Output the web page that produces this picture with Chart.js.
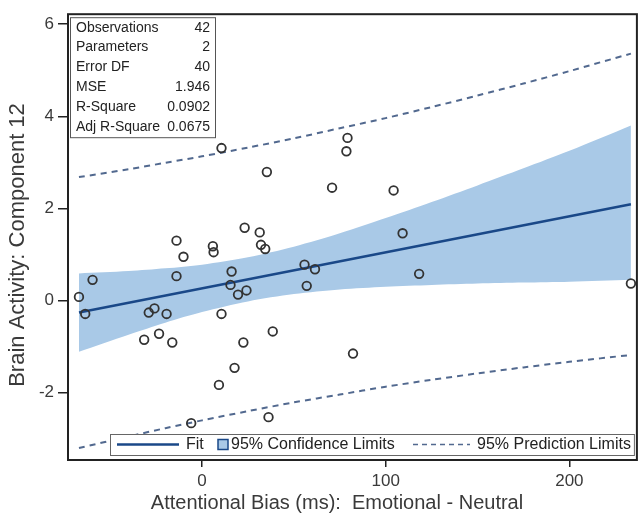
<!DOCTYPE html>
<html>
<head>
<meta charset="utf-8">
<script src="https://cdn.jsdelivr.net/npm/chart.js@4/dist/chart.umd.min.js"></script>
<style>
html,body{margin:0;padding:0;background:#fff;}
canvas{display:block;}
</style>
</head>
<body>
<canvas id="c" width="643" height="518"></canvas>
<script>
// ---- data ----
const obsX = [10.6, 35.3, 79.2, 78.6, 70.8, 23.2, 31.4, 32.1, 34.4, -13.9, -10.1, 5.9, 6.3, -13.9, -59.6, 16.1, 15.5, 19.6, 24.2, 55.8, 61.5, 57.0, -67.0, -63.6, -29.0, -25.9, -19.3, -31.5, -23.4, -16.2, 10.6, 38.5, 22.5, 17.7, 9.2, 36.2, -5.9, 82.2, 104.3, 109.2, 118.2, 233.5];
const obsY = [3.31, 2.79, 3.53, 3.24, 2.45, 1.58, 1.48, 1.21, 1.12, 1.30, 0.95, 1.18, 1.05, 0.53, 0.45, 0.63, 0.34, 0.13, 0.22, 0.78, 0.68, 0.32, 0.08, -0.29, -0.26, -0.17, -0.29, -0.85, -0.72, -0.91, -0.29, -0.67, -0.91, -1.46, -1.83, -2.53, -2.66, -1.15, 2.39, 1.46, 0.58, 0.37];

const fitX = [-67, 233.5];
const fitY = [-0.26, 2.09];

const bandX   = [-67, -40, -20, 0, 25, 50, 75, 100, 125, 150, 175, 200, 233.5];
const clUpper = [0.59, 0.64, 0.70, 0.78, 0.94, 1.17, 1.46, 1.79, 2.14, 2.50, 2.87, 3.25, 3.80];
const clLower = [-1.11, -0.74, -0.48, -0.25, -0.02, 0.14, 0.24, 0.30, 0.34, 0.37, 0.39, 0.41, 0.45];
const plUpper = [2.68, 2.85, 2.99, 3.13, 3.32, 3.52, 3.74, 3.96, 4.20, 4.45, 4.71, 4.98, 5.36];
const plLower = [-3.20, -2.95, -2.77, -2.60, -2.40, -2.21, -2.04, -1.87, -1.72, -1.58, -1.45, -1.33, -1.18];

const xTicks = [0, 100, 200];
const yTicks = [-2, 0, 2, 4, 6];

const statLabels = ['Observations', 'Parameters', 'Error DF', 'MSE', 'R-Square', 'Adj R-Square'];
const statValues = ['42', '2', '40', '1.946', '0.0902', '0.0675'];

const legendLabels = ['Fit', '95% Confidence Limits', '95% Prediction Limits'];
const xTitle = 'Attentional Bias (ms):  Emotional - Neutral';
const yTitle = 'Brain Activity: Component 12';

// ---- styling ----
const FIT = '#1a4888';
const BAND = '#a9c9e7';
const PRED = '#52698f';
const TXT = '#3a3a3a';
const SANS = '"Liberation Sans", Arial, sans-serif';
const NARROW = '"Liberation Sans Narrow", "Liberation Sans", Arial, sans-serif';

const pts = (xs, ys) => xs.map((x, i) => ({x: x, y: ys[i]}));

const overlay = {
  id: 'overlay',
  beforeDraw(chart) {
    const ctx = chart.ctx;
    ctx.save();
    ctx.fillStyle = '#fff';
    ctx.fillRect(0, 0, chart.width, chart.height);
    ctx.restore();
  },
  afterDatasetsDraw(chart) {
    const ctx = chart.ctx, a = chart.chartArea;
    ctx.save();
    // stats box
    const bx = a.left + 2, by = a.top + 3, bw = 145, bh = 120, rowH = 19.8;
    ctx.fillStyle = '#fff';
    ctx.fillRect(bx, by, bw, bh);
    ctx.strokeStyle = '#555';
    ctx.lineWidth = 1;
    ctx.strokeRect(bx + 0.5, by + 0.5, bw, bh);
    ctx.font = '14px ' + SANS;
    ctx.fillStyle = '#222';
    ctx.textBaseline = 'middle';
    statLabels.forEach((l, i) => {
      const y = by + 10.5 + i * rowH;
      ctx.textAlign = 'left';
      ctx.fillText(l, bx + 6, y);
      ctx.textAlign = 'right';
      ctx.fillText(statValues[i], bx + bw - 5, y);
    });

    // legend box
    const lx = a.left + 42, ly = a.bottom - 26, lw = a.right - 3 - lx, lh = 21;
    const cy = ly + lh / 2;
    ctx.fillStyle = '#fff';
    ctx.fillRect(lx, ly, lw, lh);
    ctx.strokeStyle = '#666';
    ctx.lineWidth = 1;
    ctx.strokeRect(lx + 0.5, ly + 0.5, lw, lh);
    ctx.font = '16px ' + SANS;
    ctx.fillStyle = '#222';
    ctx.textAlign = 'left';
    // fit sample
    ctx.strokeStyle = FIT;
    ctx.lineWidth = 2.5;
    ctx.beginPath(); ctx.moveTo(lx + 7, cy); ctx.lineTo(lx + 69, cy); ctx.stroke();
    ctx.fillText(legendLabels[0], lx + 76, cy);
    // band sample
    ctx.fillStyle = BAND;
    ctx.fillRect(lx + 108, cy - 5, 10, 10);
    ctx.strokeStyle = FIT;
    ctx.lineWidth = 1.5;
    ctx.strokeRect(lx + 108, cy - 5, 10, 10);
    ctx.fillStyle = '#222';
    ctx.fillText(legendLabels[1], lx + 121, cy);
    // prediction sample
    ctx.strokeStyle = PRED;
    ctx.lineWidth = 1.5;
    ctx.setLineDash([5, 4]);
    ctx.beginPath(); ctx.moveTo(lx + 303, cy); ctx.lineTo(lx + 360, cy); ctx.stroke();
    ctx.setLineDash([]);
    ctx.textAlign = 'right';
    ctx.fillText(legendLabels[2], lx + lw - 3, cy);

    // frame
    ctx.strokeStyle = '#222';
    ctx.lineWidth = 2;
    ctx.strokeRect(a.left, a.top, a.right - a.left, a.bottom - a.top);
    ctx.restore();
  },
  afterDraw(chart) {
    const ctx = chart.ctx;
    ctx.save();
    ctx.fillStyle = TXT;
    ctx.textAlign = 'center';
    ctx.textBaseline = 'middle';
    // x axis title
    ctx.font = '20px ' + SANS;
    ctx.fillText(xTitle, 337, 503);
    // y axis title
    ctx.translate(18, 245);
    ctx.rotate(-Math.PI / 2);
    ctx.font = '22px ' + SANS;
    ctx.fillText(yTitle, 0, 0);
    ctx.restore();
  }
};

new Chart(document.getElementById('c'), {
  type: 'scatter',
  data: {
    datasets: [
      {
        label: 'Observations',
        data: pts(obsX, obsY),
        showLine: false,
        pointRadius: 4.3,
        pointHoverRadius: 4.3,
        pointBorderWidth: 1.8,
        pointBorderColor: '#333',
        pointBackgroundColor: 'rgba(0,0,0,0)',
        order: 0
      },
      {
        label: 'Fit',
        data: pts(fitX, fitY),
        showLine: true,
        borderColor: FIT,
        borderWidth: 2.5,
        pointRadius: 0,
        fill: false,
        order: 1
      },
      {
        label: 'PL upper',
        data: pts(bandX, plUpper),
        showLine: true,
        borderColor: PRED,
        borderWidth: 2,
        borderDash: [6, 5],
        pointRadius: 0,
        tension: 0.3,
        fill: false,
        order: 2
      },
      {
        label: 'PL lower',
        data: pts(bandX, plLower),
        showLine: true,
        borderColor: PRED,
        borderWidth: 2,
        borderDash: [6, 5],
        pointRadius: 0,
        tension: 0.3,
        fill: false,
        order: 3
      },
      {
        label: 'CL upper',
        data: pts(bandX, clUpper),
        showLine: true,
        borderWidth: 0,
        borderColor: BAND,
        backgroundColor: BAND,
        pointRadius: 0,
        tension: 0.3,
        fill: '+1',
        order: 4
      },
      {
        label: 'CL lower',
        data: pts(bandX, clLower),
        showLine: true,
        borderWidth: 0,
        borderColor: BAND,
        pointRadius: 0,
        tension: 0.3,
        fill: false,
        order: 5
      }
    ]
  },
  options: {
    responsive: false,
    animation: false,
    devicePixelRatio: 1,
    layout: {padding: {top: 10, right: 2, left: 0, bottom: 0}},
    plugins: {legend: {display: false}, tooltip: {enabled: false}},
    scales: {
      x: {
        type: 'linear',
        min: -72.97,
        max: 236.76,
        afterBuildTicks: s => { s.ticks = xTicks.map(v => ({value: v})); },
        afterFit: s => { s.height = 58; },
        grid: {drawOnChartArea: false, drawTicks: true, tickLength: 7, color: '#222', lineWidth: 1.5},
        border: {display: false},
        ticks: {font: {family: NARROW, size: 17}, color: TXT, padding: 4, maxRotation: 0, autoSkip: false},
        title: {display: false}
      },
      y: {
        type: 'linear',
        min: -3.46,
        max: 6.215,
        afterBuildTicks: s => { s.ticks = yTicks.map(v => ({value: v})); },
        afterFit: s => { s.width = 68; },
        grid: {drawOnChartArea: false, drawTicks: true, tickLength: 10, color: '#222', lineWidth: 1.5},
        border: {display: false},
        ticks: {font: {family: NARROW, size: 17}, color: TXT, padding: 4, autoSkip: false},
        title: {display: false}
      }
    }
  },
  plugins: [overlay]
});
</script>
</body>
</html>
